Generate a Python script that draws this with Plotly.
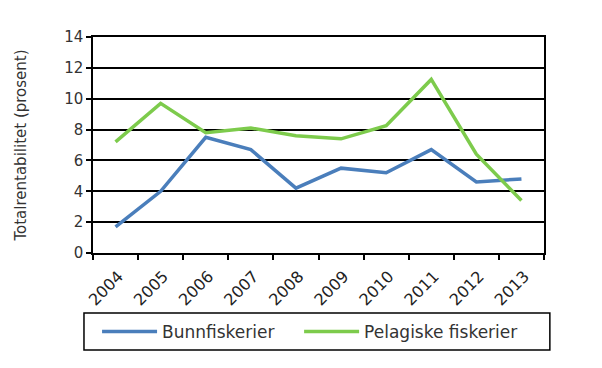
import plotly.graph_objects as go

years = ["2004", "2005", "2006", "2007", "2008", "2009", "2010", "2011", "2012", "2013"]
bunnfiskerier = [1.7, 4.0, 7.5, 6.7, 4.2, 5.5, 5.2, 6.7, 4.6, 4.8]
pelagiske = [7.2, 9.7, 7.8, 8.1, 7.6, 7.4, 8.25, 11.25, 6.4, 3.4]
y_ticks = [0, 2, 4, 6, 8, 10, 12, 14]

font_family = "DejaVu Sans, Verdana, sans-serif"

fig = go.Figure()
fig.add_trace(go.Scatter(x=years, y=bunnfiskerier, mode="lines", name="Bunnfiskerier",
                         line=dict(color="#4A7EBB", width=3.5), legend="legend"))
fig.add_trace(go.Scatter(x=years, y=pelagiske, mode="lines", name="Pelagiske fiskerier",
                         line=dict(color="#7DCB4C", width=3.5), legend="legend2"))

# legend frame (layout decoration)
fig.add_shape(type="rect", xref="paper", yref="paper",
              x0=-0.02, x1=1.013, y0=-0.449, y1=-0.278,
              line=dict(color="black", width=1.5), fillcolor="rgba(0,0,0,0)", layer="above")

legend_common = dict(orientation="h", xanchor="left", y=-0.366, yanchor="middle",
                     borderwidth=0, itemwidth=55, bgcolor="rgba(0,0,0,0)",
                     font=dict(size=17, color="#333333"))

fig.update_layout(
    width=602, height=368,
    margin=dict(l=85, r=66, t=29, b=123, autoexpand=False),
    paper_bgcolor="white", plot_bgcolor="white",
    font=dict(family=font_family, size=14, color="#333333"),
    showlegend=True,
    legend=dict(x=0.009, **legend_common),
    legend2=dict(x=0.457, **legend_common),
)
fig.update_xaxes(type="category", range=[-0.5, 9.5], tickson="boundaries", ticks="outside",
                 ticklen=5, tickcolor="black", tickwidth=1.5, tickangle=-45, showgrid=False,
                 showline=True, linecolor="black", linewidth=1.5, mirror=True, automargin=False,
                 ticklabelstandoff=6, ticklabelshift=3,
                 tickfont=dict(size=16, color="#222222"))
fig.update_yaxes(range=[0, 14], tickvals=y_ticks, ticks="outside", ticklen=5,
                 tickcolor="black", tickwidth=1.5, showgrid=True, gridcolor="black",
                 gridwidth=1.5, showline=True, linecolor="black", linewidth=1.5, mirror=True,
                 zeroline=False, automargin=False, tickfont=dict(size=15, color="#333333"),
                 title=dict(text="Totalrentabilitet (prosent)", font=dict(size=15, color="#333333"),
                            standoff=34))

fig.write_html("out.html")
